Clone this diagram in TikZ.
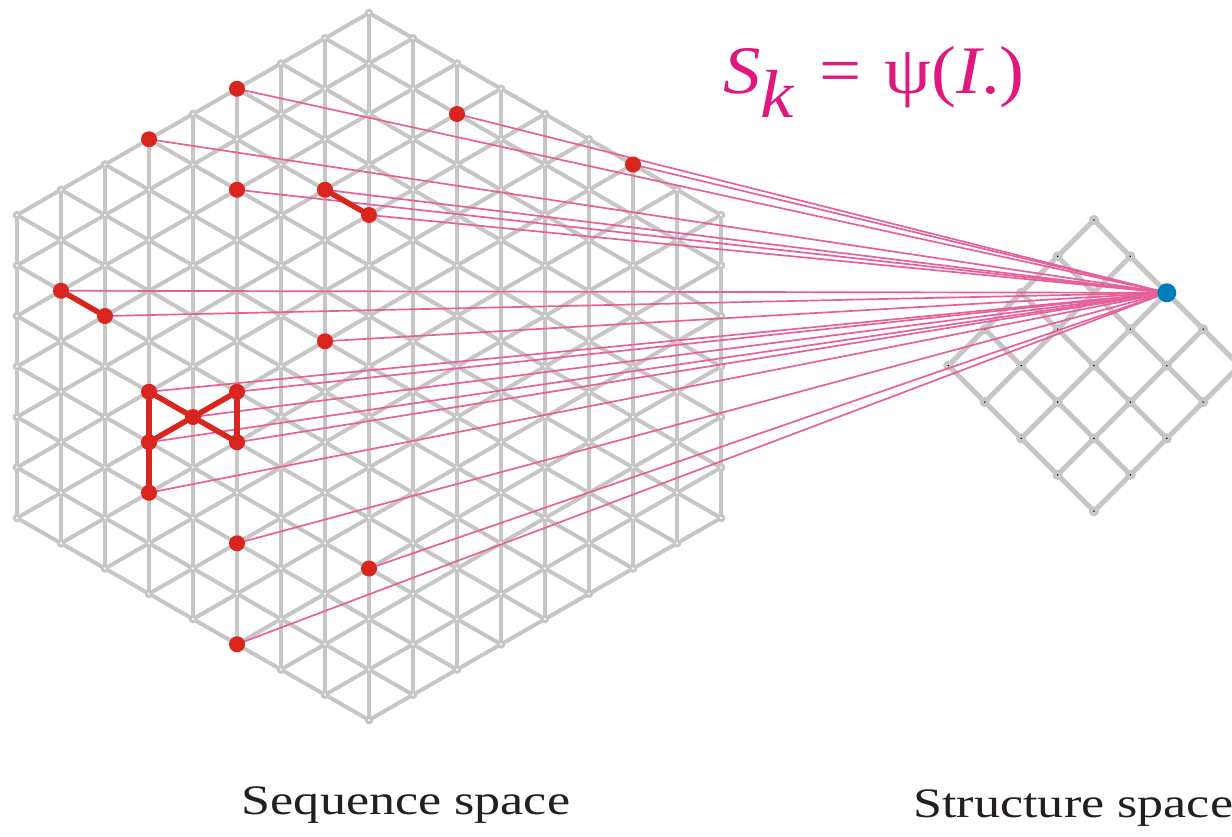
\documentclass[tikz,border=0pt]{standalone}
\usepackage{fontspec}
\setmainfont{Liberation Serif}
\usepackage{graphicx}
\usepackage{tikz}
\usepackage{xcolor}

\definecolor{latgray}{RGB}{198,198,198}
\definecolor{mappink}{RGB}{232,96,155}
\definecolor{hitred}{RGB}{217,37,29}
\definecolor{foldblue}{RGB}{0,125,186}
\definecolor{sktext}{RGB}{224,24,125}
\definecolor{inkblack}{RGB}{35,31,32}

\begin{document}
\begin{tikzpicture}[x=1pt,y=-1pt,line cap=round,
  seqpt/.style={circle,draw=latgray,fill=white,line width=3pt,inner sep=0pt,minimum size=5.5pt},
  seqedge/.style={latgray,line width=4pt},
  strpt/.style={circle,draw=latgray,fill=black,line width=4pt,inner sep=0pt,minimum size=6pt},
  stredge/.style={latgray,line width=5pt},
  mapline/.style={mappink,line width=1.7pt},
  hit/.style={circle,fill=hitred,inner sep=0pt,minimum size=16pt},
  hitedge/.style={hitred,line width=5.5pt},
  target/.style={circle,fill=foldblue,inner sep=0pt,minimum size=19pt},
  spacename/.style={text=inkblack,font=\fontsize{42}{50}\selectfont}]
\useasboundingbox (0,0) rectangle (1232,836);
\clip (0,0) rectangle (1232,836);

% sequence space: triangular lattice in a hexagon
\foreach \c in {0,...,16} {
  \pgfmathtruncatemacro\n{14-abs(\c-8)}
  \foreach \j in {0,...,\n}
    \node[seqpt] (s\c-\j) at ({17+44*\c},{13+25.25*abs(\c-8)+50.5*\j}) {};
}
\foreach \c in {0,...,16} {
  \pgfmathtruncatemacro\n{13-abs(\c-8)}
  \foreach \j in {0,...,\n} {
    \pgfmathtruncatemacro\k{\j+1}
    \draw[seqedge] (s\c-\j) -- (s\c-\k);
  }
}
\foreach \c in {0,...,7} {
  \pgfmathtruncatemacro\n{6+\c}
  \pgfmathtruncatemacro\d{\c+1}
  \pgfmathtruncatemacro\e{16-\c}
  \pgfmathtruncatemacro\f{15-\c}
  \foreach \j in {0,...,\n} {
    \pgfmathtruncatemacro\k{\j+1}
    \draw[seqedge] (s\c-\j) -- (s\d-\j);
    \draw[seqedge] (s\c-\j) -- (s\d-\k);
    \draw[seqedge] (s\e-\j) -- (s\f-\j);
    \draw[seqedge] (s\e-\j) -- (s\f-\k);
  }
}

% structure space: square lattice turned by 45 degrees
\foreach \a in {0,...,4}
  \foreach \b in {0,...,4}
    \node[strpt] (t\a-\b) at ({1094+36.4*(\b-\a)},{220+36.4*(\a+\b)}) {};
\foreach \a in {0,...,4}
  \foreach \b in {0,...,3} {
    \pgfmathtruncatemacro\k{\b+1}
    \draw[stredge] (t\a-\b) -- (t\a-\k);
    \draw[stredge] (t\b-\a) -- (t\k-\a);
  }

% neutral network mapped onto one structure
\foreach \p in {5-0,10-1,3-0,14-0,5-2,7-3,8-4,1-2,2-3,7-6,3-5,5-6,4-6,3-6,5-7,3-7,5-9,8-11,5-11}
  \draw[mapline] (s\p) -- (t0-2);
\foreach \p in {5-0,10-1,3-0,14-0,5-2,7-3,8-4,1-2,2-3,7-6,3-5,5-6,4-6,3-6,5-7,3-7,5-9,8-11,5-11}
  \node[hit] (h\p) at (s\p) {};
\draw[hitedge] (h7-3) -- (h8-4);
\draw[hitedge] (h1-2) -- (h2-3);
\draw[hitedge] (h3-5) -- (h3-6) -- (h3-7);
\draw[hitedge] (h3-5) -- (h4-6) -- (h5-7);
\draw[hitedge] (h5-6) -- (h4-6) -- (h3-6);
\draw[hitedge] (h5-6) -- (h5-7);
\node[target] (fold) at (t0-2) {};

\node[text=sktext,font=\fontsize{68}{80}\selectfont] (formula) at (874,82)
  {\scalebox{1.1}[1]{\textit{S}\raisebox{-0.36em}{\textit{k}}\hspace{0.08em} = \hspace{0.05em}ψ(\textit{I}.)}};
\node[spacename] (seqname) at (406,805) {\scalebox{1.24}[1]{Sequence space}};
\node[spacename,anchor=west] (strname) at (910,808) {\scalebox{1.24}[1]{Structure space}};
\end{tikzpicture}
\end{document}
